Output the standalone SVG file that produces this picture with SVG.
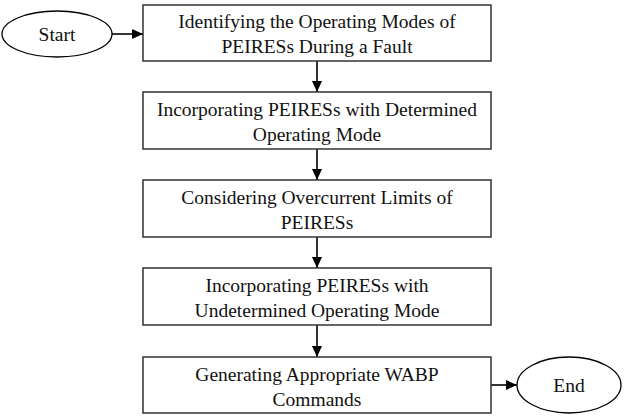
<svg xmlns="http://www.w3.org/2000/svg" width="631" height="416" viewBox="0 0 631 416">
<defs>
<marker id="ah" markerWidth="11" markerHeight="10" refX="11" refY="5" orient="auto" markerUnits="userSpaceOnUse">
<path d="M0,0 L11,5 L0,10 Z" fill="#000"/>
</marker>
<style>
.box{fill:#fff;stroke:#333;stroke-width:1.5}
.ell{fill:#fff;stroke:#000;stroke-width:1.3}
.t{font-family:"Liberation Serif","Times New Roman",serif;font-size:19.5px;fill:#111;text-anchor:middle}
.c{stroke:#000;stroke-width:1.6;fill:none;marker-end:url(#ah)}
</style>
</defs>
<rect width="631" height="416" fill="#fff"/>
<g id="connectors">
<line class="c" x1="112" y1="34" x2="143" y2="34"/>
<line class="c" x1="317" y1="61" x2="317" y2="92"/>
<line class="c" x1="317" y1="149" x2="317" y2="180"/>
<line class="c" x1="317" y1="237" x2="317" y2="268"/>
<line class="c" x1="317" y1="325" x2="317" y2="357"/>
<line class="c" x1="491" y1="385" x2="517" y2="385"/>
</g>
<g id="start">
<ellipse class="ell" cx="57" cy="34" rx="55" ry="23"/>
<text class="t" x="57" y="41">Start</text>
</g>
<g id="step1">
<rect class="box" x="143" y="5" width="348" height="56"/>
<text class="t" x="317" y="28">Identifying the Operating Modes of</text>
<text class="t" x="317" y="53">PEIRESs During a Fault</text>
</g>
<g id="step2">
<rect class="box" x="143" y="92" width="348" height="57"/>
<text class="t" x="317" y="116">Incorporating PEIRESs with Determined</text>
<text class="t" x="317" y="141">Operating Mode</text>
</g>
<g id="step3">
<rect class="box" x="143" y="180" width="348" height="57"/>
<text class="t" x="317" y="204">Considering Overcurrent Limits of</text>
<text class="t" x="317" y="229">PEIRESs</text>
</g>
<g id="step4">
<rect class="box" x="143" y="268" width="348" height="57"/>
<text class="t" x="317" y="292">Incorporating PEIRESs with</text>
<text class="t" x="317" y="317">Undetermined Operating Mode</text>
</g>
<g id="step5">
<rect class="box" x="143" y="357" width="348" height="56"/>
<text class="t" x="317" y="381">Generating Appropriate WABP</text>
<text class="t" x="317" y="406">Commands</text>
</g>
<g id="end">
<ellipse class="ell" cx="569" cy="385" rx="52" ry="28"/>
<text class="t" x="569" y="392">End</text>
</g>
</svg>
